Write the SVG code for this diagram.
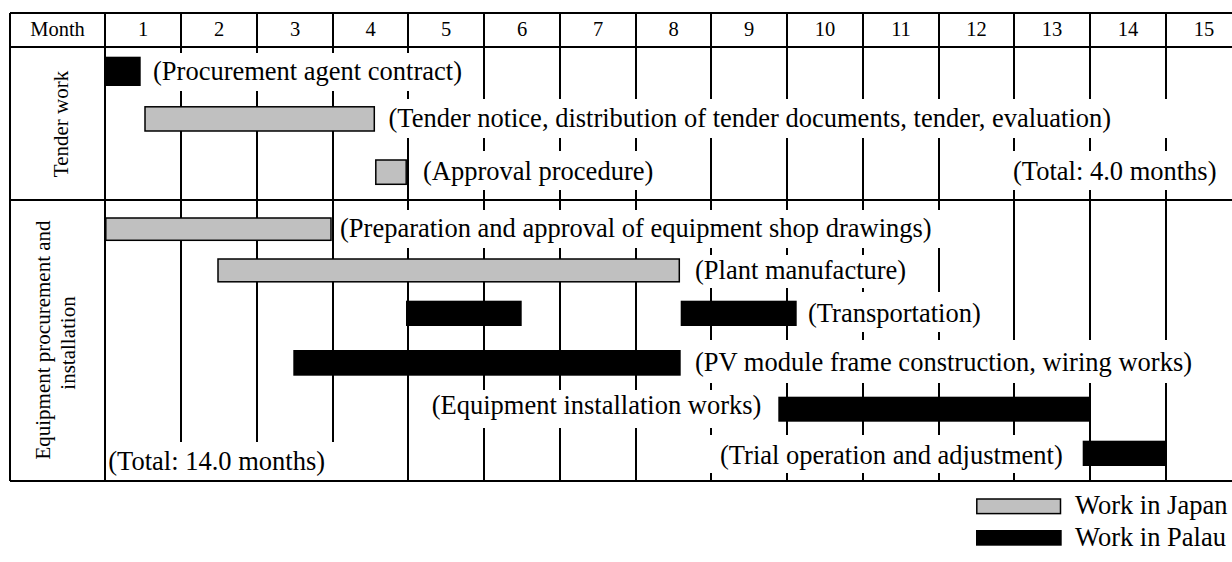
<svg xmlns="http://www.w3.org/2000/svg" width="1232" height="562" viewBox="0 0 1232 562">
<style>
.grid{stroke:#000;stroke-width:2;fill:none}
.hdr{font-family:"Liberation Serif","Times New Roman",serif;font-size:20.5px;text-anchor:middle;fill:#000}
.side{font-family:"Liberation Serif","Times New Roman",serif;font-size:21px;text-anchor:middle;fill:#000}
.lbl{font-family:"Liberation Serif","Times New Roman",serif;font-size:26.5px;fill:#000}
.jp{fill:#c0c0c0;stroke:#000;stroke-width:1.5}
.pl{fill:#000}
.bg{fill:#fff}
</style>
<rect width="1232" height="562" fill="#fff"/>
<g id="grid" class="grid">
<path d="M10 13H1232M10 47H1232M10 200H1232M10 481H1232"/>
<path d="M10 13V481M105 13V481M181 13V481M257 13V481M333 13V481M408 13V481M484 13V481M560 13V481M636 13V481M711 13V481M787 13V481M863 13V481M939 13V481M1014 13V481M1090 13V481M1166 13V481"/>
</g>
<g id="header">
<text class="hdr" x="57.5" y="36">Month</text>
<text class="hdr" x="143" y="36">1</text>
<text class="hdr" x="219" y="36">2</text>
<text class="hdr" x="295" y="36">3</text>
<text class="hdr" x="370.5" y="36">4</text>
<text class="hdr" x="446" y="36">5</text>
<text class="hdr" x="522" y="36">6</text>
<text class="hdr" x="598" y="36">7</text>
<text class="hdr" x="673.5" y="36">8</text>
<text class="hdr" x="749" y="36">9</text>
<text class="hdr" x="825" y="36">10</text>
<text class="hdr" x="901" y="36">11</text>
<text class="hdr" x="976.5" y="36">12</text>
<text class="hdr" x="1052" y="36">13</text>
<text class="hdr" x="1128" y="36">14</text>
<text class="hdr" x="1204" y="36">15</text>
</g>
<g id="section-tender">
<text class="side" transform="translate(68,124) rotate(-90)">Tender work</text>
</g>
<g id="section-equipment">
<text class="side" transform="translate(50,340) rotate(-90)">Equipment procurement and</text>
<text class="side" transform="translate(75,343) rotate(-90)">installation</text>
</g>
<g id="t-procurement-agent">
<rect class="bg" x="145" y="53" width="325" height="38"/>
<rect class="pl" x="105" y="56.7" width="35.7" height="29.3"/>
<text class="lbl" x="153" y="80">(Procurement agent contract)</text>
</g>
<g id="t-tender-notice">
<rect class="bg" x="380" y="99" width="795" height="39"/>
<rect class="jp" x="145" y="106.8" width="229.3" height="24.2"/>
<text class="lbl" x="388.5" y="126.7">(Tender notice, distribution of tender documents, tender, evaluation)</text>
</g>
<g id="t-approval">
<rect class="bg" x="413" y="151" width="287" height="39"/>
<rect class="jp" x="375.8" y="160" width="30.4" height="24.3"/>
<text class="lbl" x="423" y="180">(Approval procedure)</text>
</g>
<g id="t-total-tender">
<rect class="bg" x="1000" y="151" width="232" height="39"/>
<text class="lbl" x="1013" y="180">(Total: 4.0 months)</text>
</g>
<g id="e-shop-drawings">
<rect class="bg" x="336" y="210" width="654" height="38"/>
<rect class="jp" x="105.8" y="218" width="225.2" height="22.3"/>
<text class="lbl" x="340" y="237">(Preparation and approval of equipment shop drawings)</text>
</g>
<g id="e-plant-manufacture">
<rect class="bg" x="688" y="255" width="237" height="33"/>
<rect class="jp" x="218" y="259" width="461.3" height="22.8"/>
<text class="lbl" x="695" y="278.6">(Plant manufacture)</text>
</g>
<g id="e-transportation">
<rect class="bg" x="800" y="292" width="200" height="40"/>
<rect class="pl" x="406" y="300.7" width="115.7" height="25.3"/>
<rect class="pl" x="680.7" y="300.7" width="116" height="25.3"/>
<text class="lbl" x="808" y="322">(Transportation)</text>
</g>
<g id="e-pv-module">
<rect class="bg" x="688" y="340" width="544" height="43"/>
<rect class="pl" x="293.3" y="350" width="387.4" height="25.7"/>
<text class="lbl" x="695" y="371">(PV module frame construction, wiring works)</text>
</g>
<g id="e-installation">
<rect class="bg" x="425" y="390" width="350" height="38"/>
<rect class="pl" x="778.3" y="396.7" width="311.7" height="25"/>
<text class="lbl" x="431.7" y="413.6">(Equipment installation works)</text>
</g>
<g id="e-trial">
<rect class="bg" x="710" y="435" width="368" height="38"/>
<rect class="pl" x="1082.7" y="440.7" width="83.3" height="25.3"/>
<text class="lbl" x="720" y="463.5">(Trial operation and adjustment)</text>
</g>
<g id="e-total">
<rect class="bg" x="106" y="442" width="234" height="38"/>
<text class="lbl" x="108.3" y="470.3">(Total: 14.0 months)</text>
</g>
<g id="legend">
<g id="legend-japan">
<rect class="jp" x="976.8" y="499" width="83.7" height="14.6"/>
<text class="lbl" x="1075" y="514">Work in Japan</text>
</g>
<g id="legend-palau">
<rect class="pl" x="976" y="530" width="85.7" height="15.7"/>
<text class="lbl" x="1075" y="546">Work in Palau</text>
</g>
</g>
</svg>
